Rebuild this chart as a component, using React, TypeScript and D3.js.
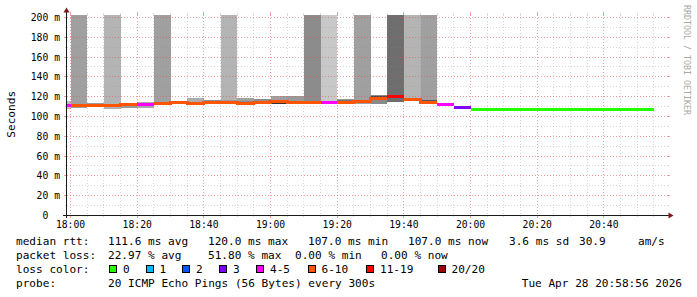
import React from 'react';
import * as d3 from 'd3';

// ---------- data ----------
// start of each 5‑minute step, minutes relative to 18:00
const stepStarts = [-5, 0, 5, 10, 15, 20, 25, 30, 35, 40, 45, 50, 55, 60, 65, 70, 75, 80, 85, 90, 95, 100, 105, 110, 115,
  120, 125, 130, 135, 140, 145, 150, 155, 160, 165, 170];
// median rtt (ms)
const medianMs = [110.6, 110.8, 110.8, 110.8, 111.6, 112.1, 113.1, 113.6, 112.6, 113.6, 113.6, 112.3, 113.6, 115.1, 113.6,
  113.6, 113.6, 113.6, 115.1, 117.5, 120.0, 117.0, 114.1, 111.8, 108.8,
  107.0, 107.0, 107.0, 107.0, 107.0, 107.0, 107.0, 107.0, 107.0, 107.0, 107.0];
// lost pings out of 20
const lossCount = [4, 8, 8, 8, 8, 4, 8, 8, 8, 8, 8, 8, 8, 8, 8, 8, 5, 8, 8, 8, 12, 8, 8, 4, 3,
  0, 0, 0, 0, 0, 0, 0, 0, 0, 0, 0];
// smoke (ping spread) per step, ms
const smokeLo: (number | null)[] = [107.1, 108.1, 108.8, 107.0, 108.1, 107.8, 111.1, 112.1, 111.1, 112.6, 112.1, 111.4, 112.4,
  112.4, 113.1, 112.6, 113.1, 113.1, 112.4, 112.4, 114.1, 115.1, 113.1, null, 108.3,
  null, null, null, null, null, null, null, null, null, null, null];
const smokeHi: (number | null)[] = [115.4, 260, 113.1, 260, 113.1, 114.1, 260, 115.4, 118.5, 116.5, 260, 118.2, 117.2,
  119.9, 119.9, 260, 260, 117.2, 260, 120.9, 260, 260, 260, null, 109.9,
  null, null, null, null, null, null, null, null, null, null, null];
const smokeShade: (string | null)[] = ['#bdbdbd', '#a0a0a0', '#9c9c9c', '#b4b4b4', '#9a9a9a', '#ababab', '#a0a0a0', '#9a9a9a',
  '#acacac', '#8e8e8e', '#b4b4b4', '#a0a0a0', '#8c8c8c', '#a0a0a0', '#9a9a9a', '#8c8c8c', '#c8c8c8', '#9a9a9a', '#a0a0a0',
  '#8a8a8a', '#6e6e6e', '#b4b4b4', '#a0a0a0', null, '#666666',
  null, null, null, null, null, null, null, null, null, null, null];
// denser core of the smoke
const coreLo: (number | null)[] = [null, null, null, null, null, null, null, null, 112.1, null, 112.1, 112.1, null,
  112.6, null, null, null, 114.6, 113.3, 119.0, null, null, 115.1, null, null,
  null, null, null, null, null, null, null, null, null, null, null];
const coreHi: (number | null)[] = [null, null, null, null, null, null, null, null, 114.6, null, 116.2, 115.1, null,
  113.6, null, null, null, 116.2, 114.3, 120.0, null, null, 116.1, null, null,
  null, null, null, null, null, null, null, null, null, null, null];
const coreShade: (string | null)[] = [null, null, null, null, null, null, null, null, '#8a8a8a', null, '#999999', '#888888', null,
  '#333333', null, null, null, '#777777', '#444444', '#444444', null, null, '#555555', null, null,
  null, null, null, null, null, null, null, null, null, null, null];

const yTickValues = [0, 20, 40, 60, 80, 100, 120, 140, 160, 180, 200];
const yMinorValues = [10, 30, 50, 70, 90, 110, 130, 150, 170, 190];
const xTickMinutes = [0, 20, 40, 60, 80, 100, 120, 140, 160];
const xTickLabels = ['18:00', '18:20', '18:40', '19:00', '19:20', '19:40', '20:00', '20:20', '20:40'];
const xMinorMinutes = d3.range(0, 180, 5).filter((m) => m % 20 !== 0);

const lossLabels = ['0', '1', '2', '3', '4-5', '6-10', '11-19', '20/20'];
const lossColors = ['#26ff00', '#00b8ff', '#0059ff', '#7e00ff', '#ff00ff', '#ff5500', '#ff0000', '#a10000'];
const swatchX = [109, 145.5, 182, 219, 256, 307.5, 366, 437.5];

const rttLegend = [
  { t: '111.6 ms avg', x: 108 }, { t: '120.0 ms max', x: 208 }, { t: '107.0 ms min', x: 308 },
  { t: '107.0 ms now', x: 408 }, { t: '3.6 ms sd', x: 509 }, { t: '30.9', x: 579 }, { t: 'am/s', x: 638 },
];
const lossLegend = [
  { t: '22.97 % avg', x: 108 }, { t: '51.80 % max', x: 208 }, { t: '0.00 % min', x: 295 }, { t: '0.00 % now', x: 381 },
];

function lossColor(n: number) {
  if (n <= 0) return lossColors[0];
  if (n === 1) return lossColors[1];
  if (n === 2) return lossColors[2];
  if (n === 3) return lossColors[3];
  if (n <= 5) return lossColors[4];
  if (n <= 10) return lossColors[5];
  if (n <= 19) return lossColors[6];
  return lossColors[7];
}

const MONO = '"DejaVu Sans Mono", monospace';

export default function App() {
  const left = 67, right = 667, top = 15, bottom = 215;
  const t0 = -64 / 60; // 17:58:56
  const x = d3.scaleLinear().domain([t0, t0 + 180]).range([left, right]);
  const y = d3.scaleLinear().domain([0, 202]).range([bottom, top]);
  const cx = (m: number) => Math.floor(x(m)) + 0.5;
  const cy = (v: number) => Math.round(y(v)) + 0.5;

  // median runs by colour
  const runs: { color: string; pts: [number, number][] }[] = [];
  stepStarts.forEach((s, i) => {
    const c = lossColor(lossCount[i]);
    let cur = runs[runs.length - 1];
    if (!cur || cur.color !== c) {
      cur = { color: c, pts: [] };
      runs.push(cur);
    }
    cur.pts.push([s, medianMs[i]]);
  });
  runs.forEach((r) => {
    const last = r.pts[r.pts.length - 1];
    r.pts.push([last[0] + 5, last[1]]);
  });
  const line = d3.line<[number, number]>().x((d) => x(d[0])).y((d) => y(d[1])).curve(d3.curveStepAfter);

  const gridMinor = 'rgba(143,143,143,0.35)';
  const gridMajor = 'rgba(222,80,80,0.55)';

  return (
    <svg width={697} height={297} style={{ position: 'absolute', left: 0, top: 0, background: '#fff' }}
      xmlns="http://www.w3.org/2000/svg">
      <defs>
        <clipPath id="plot">
          <rect x={left} y={top} width={right - left} height={bottom - top} />
        </clipPath>
      </defs>
      <rect x={0} y={0} width={697} height={297} fill="#ffffff" />

      {/* smoke */}
      <g clipPath="url(#plot)" shapeRendering="crispEdges">
        {stepStarts.map((s, i) => {
          const lo = smokeLo[i], hi = smokeHi[i];
          if (lo == null || hi == null) return null;
          const x0 = x(s), x1 = x(s + 5);
          const yt = y(Math.min(hi, 203)), yb = y(lo);
          return <rect key={'s' + i} x={x0} y={yt} width={x1 - x0} height={yb - yt} fill={smokeShade[i] as string} />;
        })}
        {stepStarts.map((s, i) => {
          const lo = coreLo[i], hi = coreHi[i];
          if (lo == null || hi == null) return null;
          const x0 = x(s), x1 = x(s + 5);
          const yt = y(hi), yb = y(lo);
          return <rect key={'c' + i} x={x0} y={yt} width={x1 - x0} height={yb - yt} fill={coreShade[i] as string} />;
        })}
      </g>

      {/* grid */}
      <g strokeWidth={1}>
        {yMinorValues.map((v) => (
          <g key={'ym' + v}>
            <line x1={left} x2={right} y1={cy(v)} y2={cy(v)} stroke={gridMinor} strokeDasharray="1 2" />
            <line x1={left - 2} x2={left} y1={cy(v)} y2={cy(v)} stroke={gridMinor} />
            <line x1={right} x2={right + 2} y1={cy(v)} y2={cy(v)} stroke={gridMinor} />
          </g>
        ))}
        {xMinorMinutes.map((m) => (
          <g key={'xm' + m}>
            <line x1={cx(m)} x2={cx(m)} y1={top} y2={bottom} stroke={gridMinor} strokeDasharray="1 2" />
            <line x1={cx(m)} x2={cx(m)} y1={top - 2} y2={top} stroke={gridMinor} />
            <line x1={cx(m)} x2={cx(m)} y1={bottom} y2={bottom + 2} stroke={gridMinor} />
          </g>
        ))}
        {yTickValues.filter((v) => v > 0).map((v) => (
          <g key={'yM' + v}>
            <line x1={left} x2={right} y1={cy(v)} y2={cy(v)} stroke={gridMajor} strokeDasharray="1 2" />
            <line x1={left - 3} x2={left} y1={cy(v)} y2={cy(v)} stroke={gridMajor} />
            <line x1={right} x2={right + 3} y1={cy(v)} y2={cy(v)} stroke={gridMajor} />
          </g>
        ))}
        {xTickMinutes.map((m) => (
          <g key={'xM' + m}>
            <line x1={cx(m)} x2={cx(m)} y1={top} y2={bottom} stroke={gridMajor} strokeDasharray="1 2" />
            <line x1={cx(m)} x2={cx(m)} y1={top - 3} y2={top} stroke={gridMajor} />
            <line x1={cx(m)} x2={cx(m)} y1={bottom} y2={bottom + 3} stroke={gridMajor} />
          </g>
        ))}
      </g>

      {/* median lines */}
      <g clipPath="url(#plot)">
        {runs.map((r, i) => (
          <path key={'r' + i} d={line(r.pts) || ''} fill="none" stroke={r.color} strokeWidth={3}
            shapeRendering="crispEdges" />
        ))}
      </g>

      {/* axes */}
      <line x1={left - 4} x2={right + 3} y1={bottom + 0.5} y2={bottom + 0.5} stroke="#1a1a1a" strokeWidth={1} />
      <line x1={left - 0.5} x2={left - 0.5} y1={bottom + 3} y2={10} stroke="#1a1a1a" strokeWidth={1} />
      <path d={`M${left - 0.5},7.5 L${left - 3.5},12.5 L${left + 2.5},12.5 Z`} fill="#7f1818" />
      <path d={`M${right + 6.5},${bottom + 0.5} L${right + 1.5},${bottom - 2.5} L${right + 1.5},${bottom + 3.5} Z`} fill="#7f1818" />

      {/* y tick labels */}
      <g fontFamily={MONO} fontSize={9.72} fill="#000">
        {yTickValues.map((v) => (
          <text key={'yl' + v} x={v === 0 ? 48.3 : 60} y={cy(v) + 3.3} textAnchor="end">
            {v === 0 ? '0' : `${v} m`}
          </text>
        ))}
        {xTickMinutes.map((m, i) => (
          <text key={'xl' + m} x={x(m)} y={228.3} textAnchor="middle">{xTickLabels[i]}</text>
        ))}
      </g>

      {/* axis title */}
      <text transform="translate(15,114.3) rotate(-90)" fontFamily={MONO} fontSize={11.1} textAnchor="middle" fill="#000">
        Seconds
      </text>

      {/* watermark */}
      <text transform="translate(684,5) rotate(90)" fontFamily={MONO} fontSize={8.3} fill="#a8a8a8">
        RRDTOOL / TOBI OETIKER
      </text>

      {/* legend */}
      <g fontFamily={MONO} fontSize={11.1} fill="#000">
        <text x={16} y={244.5}>median rtt:</text>
        {rttLegend.map((d) => (
          <text key={d.t + d.x} x={d.x} y={244.5}>{d.t}</text>
        ))}
        <text x={16} y={258.5}>packet loss:</text>
        {lossLegend.map((d) => (
          <text key={d.t + d.x} x={d.x} y={258.5}>{d.t}</text>
        ))}
        <text x={16} y={272.5}>loss color:</text>
        {lossLabels.map((l, i) => (
          <g key={'lc' + l}>
            <rect x={swatchX[i] + 0.5} y={265} width={7} height={7} fill={lossColors[i]} stroke="#000" strokeWidth={1}
              shapeRendering="crispEdges" />
            <text x={swatchX[i] + 14} y={272.5}>{l}</text>
          </g>
        ))}
        <text x={16} y={286.5}>probe:</text>
        <text x={108} y={286.5}>20 ICMP Echo Pings (56 Bytes) every 300s</text>
        <text x={682} y={286.5} textAnchor="end">Tue Apr 28 20:58:56 2026</text>
      </g>
    </svg>
  );
}
